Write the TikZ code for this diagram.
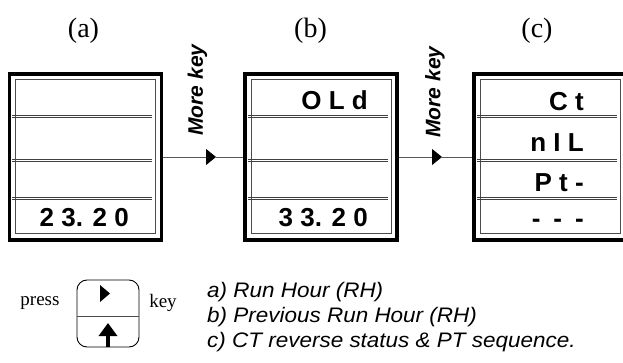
\documentclass[tikz,border=0pt]{standalone}
\usepackage{fontspec}
\setmainfont{Liberation Serif}
\newfontfamily\dispfont{Liberation Sans}
\usetikzlibrary{arrows.meta}

\tikzset{
  outerbox/.style={draw,line width=3.5pt,minimum width=152pt,minimum height=166pt,inner sep=0pt},
  innerbox/.style={draw=black!70,line width=1pt,minimum width=140pt,minimum height=154pt,inner sep=0pt},
  rowline/.style={draw=black!75,line width=0.8pt},
  seg/.style={font=\dispfont\bfseries\fontsize{26}{28}\selectfont,anchor=base east,inner sep=0pt},
  title/.style={font=\fontsize{28}{30}\selectfont,inner sep=0pt},
  morekey/.style={font=\dispfont\bfseries\itshape\fontsize{21}{24}\selectfont,rotate=90,inner sep=0pt},
  conn/.style={draw=black!65,line width=0.8pt},
  legend/.style={font=\dispfont\itshape\fontsize{21}{24}\selectfont\addfontfeature{FakeStretch=1.07},anchor=west,inner sep=0pt}
}

\begin{document}
\begin{tikzpicture}[x=1pt,y=-1pt]
\useasboundingbox (0,0) rectangle (623,363);

% the three display windows
\node[outerbox] (boxa) at (85.5,157) {};
\node[innerbox] (ina) at (85.5,157) {};
\node[outerbox] (boxb) at (321,157) {};
\node[innerbox] (inb) at (321,157) {};
\node[outerbox] (boxc) at (550,157) {};
\node[innerbox] (inc) at (550,157) {};

% double rules between the rows
\foreach \x in {12,248,477}
  \foreach \y in {116,160,198} {
    \draw[rowline] (\x,\y-1) -- (\x+140,\y-1);
    \draw[rowline] (\x,\y+1) -- (\x+140,\y+1);
  }

\node[title] (ta) at (83.5,31) {(a)};
\node[title] (tb) at (310.5,31) {(b)};
\node[title] (tc) at (537,31) {(c)};

% display contents
\node[seg] (a4) at (129,226.5) {2 3. 2 0};
\node[seg] (b1) at (368,110) {O L d};
\node[seg] (b4) at (368,226.5) {3 3. 2 0};
\node[seg] (c1) at (584,111) {C t};
\node[seg] (c2) at (584,152) {n I L};
\node[seg] (c3) at (584,192) {P t -};
\node[seg] (c4) at (584,228) {-\hspace{0.5em}-\hspace{0.5em}-};

% More key steps
\coordinate (tip1) at (216,157);
\coordinate (tip2) at (442,157);
\draw[conn,-{Triangle[length=10pt,width=16pt,color=black]}] (boxa.east) -- (tip1);
\draw[conn] (tip1) -- (boxb.west);
\draw[conn,-{Triangle[length=10pt,width=16pt,color=black]}] (boxb.east) -- (tip2);
\draw[conn] (tip2) -- (boxc.west);
\node[morekey] (mk1) at (197.5,90) {More key};
\node[morekey] (mk2) at (435,92) {More key};

% key symbol
\node[draw,line width=0.9pt,rounded corners=10pt,minimum width=62pt,minimum height=67pt] (keybox) at (108,313.5) {};
\draw[draw=black!70,line width=0.8pt] ([yshift=-2.5pt]keybox.west) -- ([yshift=-2.5pt]keybox.east);
\fill (100,285) -- (110,293.5) -- (100,302) -- cycle;
\draw[line width=4pt,-{Triangle[length=13pt,width=18pt]}] (108,346.5) -- (108,323);
\node[font=\fontsize{19}{22}\selectfont] (press) at (40,303) {press};
\node[font=\fontsize{19}{22}\selectfont] (keyword) at (163,303) {key};

% legend
\node[legend] (la) at (207,292) {a) Run Hour (RH)};
\node[legend] (lb) at (207,317) {b) Previous Run Hour (RH)};
\node[legend] (lc) at (207,342) {c) CT reverse status \& PT sequence.};
\end{tikzpicture}
\end{document}
